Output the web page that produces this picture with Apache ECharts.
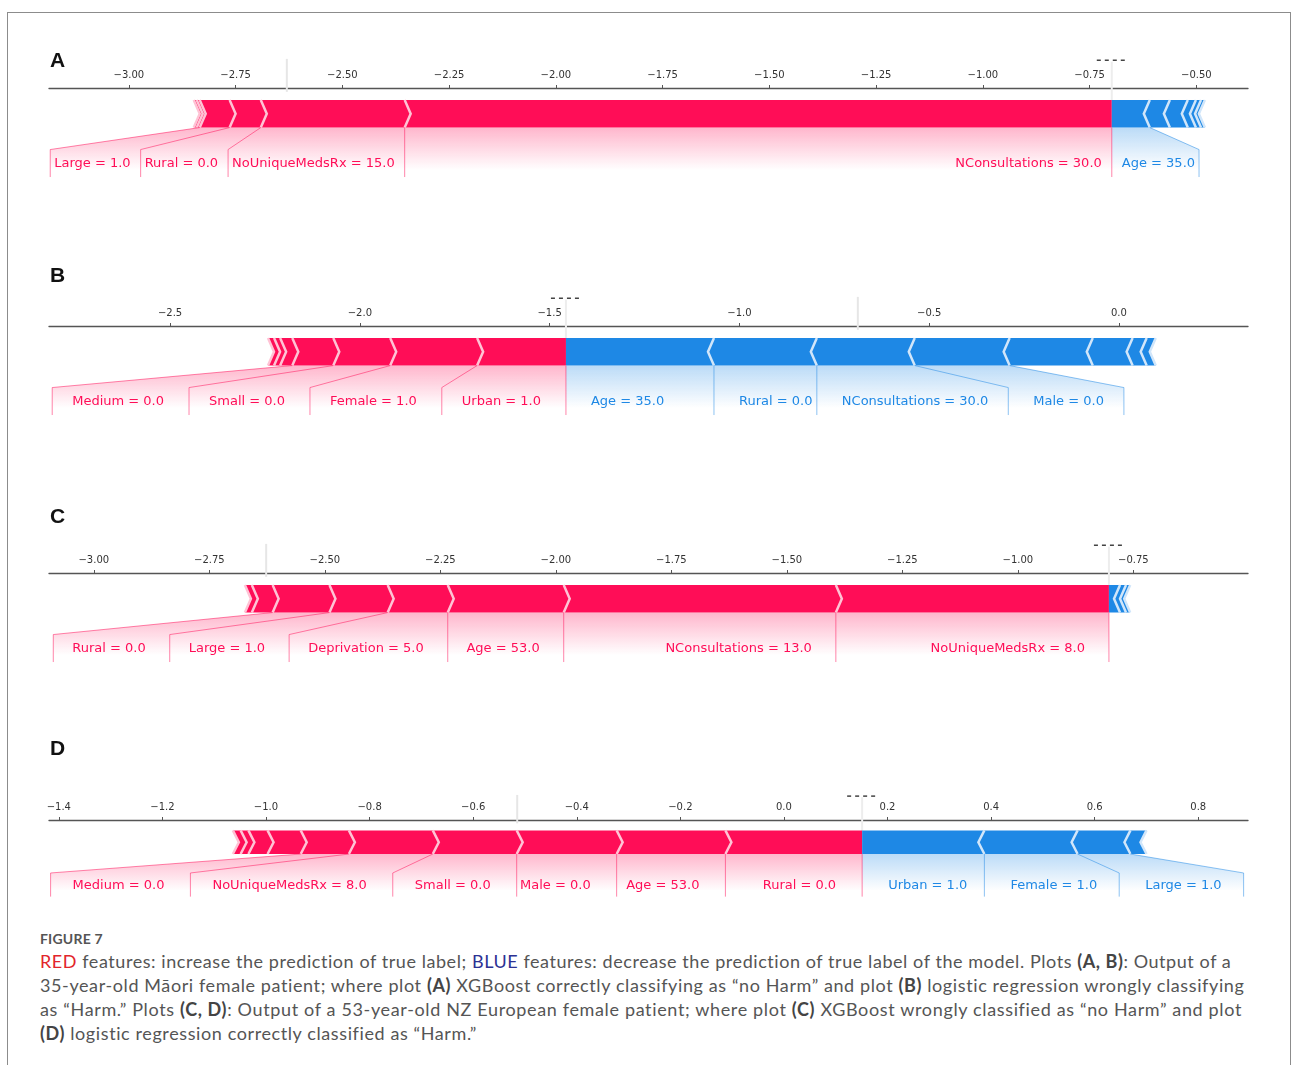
<!DOCTYPE html>
<html>
<head>
<meta charset="utf-8">
<script src="https://cdn.jsdelivr.net/npm/echarts@6/dist/echarts.min.js"></script>
<style>
  html, body { margin: 0; padding: 0; background: #fff; }
  #frame { position: absolute; left: 7px; top: 12px; width: 1282px; height: 1070px; border: 1px solid #8c8c8c; }
  #chart { position: absolute; left: 0; top: 0; width: 1292px; height: 925px; }
  #caption { position: absolute; left: 40px; top: 928px; font-family: Lato, 'Open Sans', sans-serif; color: #555; }
  #caption .fig { font-size: 14px; font-weight: bold; letter-spacing: 0.2px; height: 21px; line-height: 21px; }
  #caption .ln { font-size: 18px; line-height: 24px; white-space: nowrap; width: max-content; }
  #caption b { color: #444; }
  #caption .red { color: #e2252b; }
  #caption .blue { color: #2d3193; }
</style>
</head>
<body>
<div id="frame"></div>
<div id="chart"></div>
<div id="caption">
  <div class="fig">FIGURE 7</div>
  <div class="ln" data-w="1192"><span class="red">RED</span> features: increase the prediction of true label; <span class="blue">BLUE</span> features: decrease the prediction of true label of the model. Plots <b>(A, B)</b>: Output of a</div>
  <div class="ln" data-w="1205">35-year-old Māori female patient; where plot <b>(A)</b> XGBoost correctly classifying as “no Harm” and plot <b>(B)</b> logistic regression wrongly classifying</div>
  <div class="ln" data-w="1202">as “Harm.” Plots <b>(C, D)</b>: Output of a 53-year-old NZ European female patient; where plot <b>(C)</b> XGBoost wrongly classified as “no Harm” and plot</div>
  <div class="ln" data-w="437"><b>(D)</b> logistic regression correctly classified as “Harm.”</div>
</div>
<script>
// ---- data (SHAP values, ordered from the output value outwards) ----

// A: XGBoost, 35-year-old Maori female
const outA = -0.698;
const redNamesA = ['NConsultations = 30.0', 'NoUniqueMedsRx = 15.0', 'Rural = 0.0', 'Large = 1.0', '', ''];
const redShapA = [1.656, 0.337, 0.073, 0.070, 0.007, 0.007];
const blueNamesA = ['Age = 35.0', '', '', '', '', ''];
const blueShapA = [0.089, 0.047, 0.042, 0.019, 0.012, 0.009];
const ticksA = [-3.0, -2.75, -2.5, -2.25, -2.0, -1.75, -1.5, -1.25, -1.0, -0.75, -0.5];

// B: logistic regression, same patient
const outB = -1.457;
const redNamesB = ['Urban = 1.0', 'Female = 1.0', 'Small = 0.0', 'Medium = 0.0', '', '', ''];
const redShapB = [0.234, 0.229, 0.150, 0.108, 0.032, 0.016, 0.016];
const blueNamesB = ['Age = 35.0', 'Rural = 0.0', 'NConsultations = 30.0', 'Male = 0.0', '', '', '', ''];
const blueShapB = [0.390, 0.271, 0.258, 0.250, 0.219, 0.105, 0.037, 0.024];
const ticksB = [-2.5, -2.0, -1.5, -1.0, -0.5, 0.0];

// C: XGBoost, 53-year-old NZ European female
const outC = -0.803;
const redNamesC = ['NoUniqueMedsRx = 8.0', 'NConsultations = 13.0', 'Age = 53.0', 'Deprivation = 5.0', 'Large = 1.0', 'Rural = 0.0', '', ''];
const redShapC = [0.591, 0.589, 0.251, 0.130, 0.126, 0.123, 0.045, 0.015];
const blueNamesC = ['', '', ''];
const blueShapC = [0.024, 0.013, 0.009];
const ticksC = [-3.0, -2.75, -2.5, -2.25, -2.0, -1.75, -1.5, -1.25, -1.0, -0.75];

// D: logistic regression, same patient
const outD = 0.151;
const redNamesD = ['Rural = 0.0', 'Age = 53.0', 'Male = 0.0', 'Small = 0.0', 'NoUniqueMedsRx = 8.0', 'Medium = 0.0', '', '', '', ''];
const redShapD = [0.264, 0.210, 0.193, 0.162, 0.162, 0.093, 0.064, 0.037, 0.015, 0.015];
const blueNamesD = ['Urban = 1.0', 'Female = 1.0', 'Large = 1.0', ''];
const blueShapD = [0.236, 0.180, 0.102, 0.031];
const ticksD = [-1.4, -1.2, -1.0, -0.8, -0.6, -0.4, -0.2, 0.0, 0.2, 0.4, 0.6, 0.8];

const panelLetters = ['A', 'B', 'C', 'D'];

// ---- layout ----
const GRID_LEFT = 49, GRID_W = 1199, GRID_H = 122;
const Y_MIN = -0.3, Y_MAX = 0.144;
const BAR_W = 0.1;
const RED = '#FF0D57', BLUE = '#1E88E5';
const RED_SEP = '#FFC3D5', BLUE_SEP = '#D1E6FA';
const LABEL_FONT = '13px "DejaVu Sans"';

const panels = [
  { out: outA, redNames: redNamesA, redShap: redShapA, blueNames: blueNamesA, blueShap: blueShapA,
    ticks: ticksA, dec: 2, min: -3.187, max: -0.379, top: 88, letterY: 61, gap: 10, pad: 4 },
  { out: outB, redNames: redNamesB, redShap: redShapB, blueNames: blueNamesB, blueShap: blueShapB,
    ticks: ticksB, dec: 1, min: -2.819, max: 0.340, top: 326, letterY: 276, gap: 25, pad: 20 },
  { out: outC, redNames: redNamesC, redShap: redShapC, blueNames: blueNamesC, blueShap: blueShapC,
    ticks: ticksC, dec: 2, min: -3.097, max: -0.502, top: 573, letterY: 517, gap: 24, pad: 19 },
  { out: outD, redNames: redNamesD, redShap: redShapD, blueNames: blueNamesD, blueShap: blueShapD,
    ticks: ticksD, dec: 1, min: -1.419, max: 0.896, top: 820, letterY: 749, gap: 26, pad: 22 }
];

const measureCtx = document.createElement('canvas').getContext('2d');
measureCtx.font = LABEL_FONT;
const textWidth = (t) => measureCtx.measureText(t).width;

const fmtTick = (v, dec) => (v < -1e-9 ? '\u2212' : '') + Math.abs(v).toFixed(dec);

// segments stacked outwards from the output value
function buildSegments(out, shap, sign) {
  const segs = [];
  let pre = out;
  shap.forEach((e, k) => {
    const far = pre - sign * e;
    segs.push({ sign, k, near: pre, far });
    pre = far;
  });
  return segs;
}

// label boxes, following shap's matplotlib force plot
function buildLabels(p, names, shap, sign, color) {
  const ppu = GRID_W / (p.max - p.min);
  const texts = [], lines = [];
  let start = p.out, pre = p.out, boxEnd = p.out;
  if (sign === 1) lines.push({ pts: [[p.out, 0], [p.out, -0.18]], color });
  for (let k = 0; k < names.length; k++) {
    if (!names[k]) break;
    const val = pre - sign * shap[k];
    const anchor = start - sign * p.gap / ppu;
    const farText = anchor - sign * textWidth(names[k]) / ppu;
    texts.push({ x: anchor, text: names[k], align: sign === 1 ? 'right' : 'left', color });
    if (sign * farText > sign * val) {
      lines.push({ pts: [[val, 0], [val, -0.18]], color });
      start = val; boxEnd = val;
    } else {
      boxEnd = farText - sign * p.pad / ppu;
      lines.push({ pts: [[val, 0], [boxEnd, -0.08], [boxEnd, -0.18]], color });
      start = boxEnd;
    }
    pre = val;
  }
  const fills = pre === p.out ? [] :
    [{ pts: [[p.out, 0], [pre, 0], [boxEnd, -0.08], [boxEnd, -0.2], [p.out, -0.2]], color }];
  return { texts, lines, fills };
}

function segPolygon(s, ind) {
  const i = s.sign === 1 ? ind : -ind;
  const l = s.sign === 1 ? s.far : s.near;
  const r = s.sign === 1 ? s.near : s.far;
  if (s.k === 0) {
    return s.sign === 1
      ? [[l, 0], [r, 0], [r, BAR_W], [l, BAR_W], [l + i, BAR_W / 2]]
      : [[r, 0], [l, 0], [l, BAR_W], [r, BAR_W], [r + i, BAR_W / 2]];
  }
  return [[l, 0], [r, 0], [r + i * 0.9, BAR_W / 2], [r, BAR_W], [l, BAR_W], [l + i * 0.9, BAR_W / 2]];
}

function custom(idx, items, z, draw) {
  return {
    type: 'custom', xAxisIndex: idx, yAxisIndex: idx, z, silent: true,
    data: items.map((d, j) => [j, 0]),
    renderItem: (params, api) => draw(items[params.dataIndex], api)
  };
}

const grids = [], xAxes = [], yAxes = [], series = [], graphics = [];

panels.forEach((p, idx) => {
  grids.push({ left: GRID_LEFT, width: GRID_W, top: p.top, height: GRID_H });
  xAxes.push({
    gridIndex: idx, type: 'value', position: 'top', min: p.min, max: p.max,
    axisLine: { show: true, onZero: false, lineStyle: { color: '#555', width: 1.3 } },
    axisTick: { show: true, length: 3, customValues: p.ticks, lineStyle: { color: '#555' } },
    axisLabel: {
      customValues: p.ticks, formatter: (v) => fmtTick(v, p.dec),
      fontSize: 10, color: '#333', fontFamily: 'DejaVu Sans', margin: 8
    },
    splitLine: { show: false }
  });
  yAxes.push({ gridIndex: idx, type: 'value', min: Y_MIN, max: Y_MAX, show: false });

  const ind = (p.max - p.min) / 200;
  const segs = buildSegments(p.out, p.redShap, 1).concat(buildSegments(p.out, p.blueShap, -1));
  const red = buildLabels(p, p.redNames, p.redShap, 1, RED);
  const blue = buildLabels(p, p.blueNames, p.blueShap, -1, BLUE);
  const sumRed = p.redShap.reduce((a, b) => a + b, 0);
  const sumBlue = p.blueShap.reduce((a, b) => a + b, 0);
  const base = p.out - sumRed + sumBlue;

  // shaded label areas
  series.push(custom(idx, red.fills.concat(blue.fills), 1, (f, api) => {
    const rgb = f.color === RED ? '255,13,87' : '30,136,229';
    return {
      type: 'polygon', shape: { points: f.pts.map((q) => api.coord(q)) },
      style: {
        fill: new echarts.graphic.LinearGradient(0, 0, 0, 1, [
          { offset: 0, color: 'rgba(' + rgb + ',0.3)' },
          { offset: 0.775, color: 'rgba(' + rgb + ',0)' },
          { offset: 1, color: 'rgba(' + rgb + ',0)' }
        ])
      }
    };
  }));

  // output value line
  series.push(custom(idx, [p.out], 1, (v, api) => {
    const a = api.coord([v, 0]), b = api.coord([v, 0.24]);
    return { type: 'line', shape: { x1: a[0], y1: a[1], x2: b[0], y2: b[1] },
      style: { stroke: '#EDEDED', lineWidth: 2 } };
  }));

  // force bars
  series.push(custom(idx, segs, 2, (s, api) => ({
    type: 'polygon', shape: { points: segPolygon(s, ind).map((q) => api.coord(q)) },
    style: { fill: s.sign === 1 ? RED : BLUE }
  })));

  // separators
  series.push(custom(idx, segs, 3, (s, api) => {
    const i = s.sign === 1 ? ind : -ind;
    const pts = [[s.far, 0], [s.far + i, BAR_W / 2], [s.far, BAR_W]];
    return { type: 'polyline', shape: { points: pts.map((q) => api.coord(q)) },
      style: { stroke: s.sign === 1 ? RED_SEP : BLUE_SEP, lineWidth: 2.5, fill: null } };
  }));

  // connector lines
  series.push(custom(idx, red.lines.concat(blue.lines), 4, (l, api) => ({
    type: 'polyline', shape: { points: l.pts.map((q) => api.coord(q)) },
    style: { stroke: l.color, opacity: 0.5, lineWidth: 1, fill: null }
  })));

  // feature labels
  series.push(custom(idx, red.texts.concat(blue.texts), 5, (t, api) => {
    const c = api.coord([t.x, -0.133]);
    return { type: 'text', x: c[0], y: c[1],
      style: { text: t.text, fill: t.color, fontSize: 13, fontFamily: 'DejaVu Sans',
        align: t.align, verticalAlign: 'middle' } };
  }));

  // base value line
  series.push(custom(idx, [base], 6, (v, api) => {
    const a = api.coord([v, 0.13]), b = api.coord([v, 0.25]);
    return { type: 'line', shape: { x1: a[0], y1: a[1], x2: b[0], y2: b[1] },
      style: { stroke: '#E6E6E6', lineWidth: 2 } };
  }));

  // remnant of the output value text above the axis
  series.push(custom(idx, [p.out], 6, (v, api) => {
    const c = api.coord([v, 0.245]);
    return { type: 'line', shape: { x1: c[0] - 15, y1: c[1], x2: c[0] + 17, y2: c[1] },
      style: { stroke: '#444', lineWidth: 1.5, lineDash: [4, 4] } };
  }));

  graphics.push({ type: 'text', left: 50, top: p.letterY - 10,
    style: { text: panelLetters[idx], fontSize: 21, fontWeight: 'bold', fontFamily: 'Liberation Sans', fill: '#111' } });
});

const chart = echarts.init(document.getElementById('chart'));
chart.setOption({
  animation: false,
  grid: grids,
  xAxis: xAxes,
  yAxis: yAxes,
  series,
  graphic: graphics
});

// fit caption lines to the widths in the figure
document.querySelectorAll('#caption .ln[data-w]').forEach((el) => {
  const target = +el.dataset.w;
  const w = el.getBoundingClientRect().width;
  const n = el.textContent.length;
  el.style.letterSpacing = ((target - w) / n).toFixed(3) + 'px';
});
</script>
</body>
</html>
